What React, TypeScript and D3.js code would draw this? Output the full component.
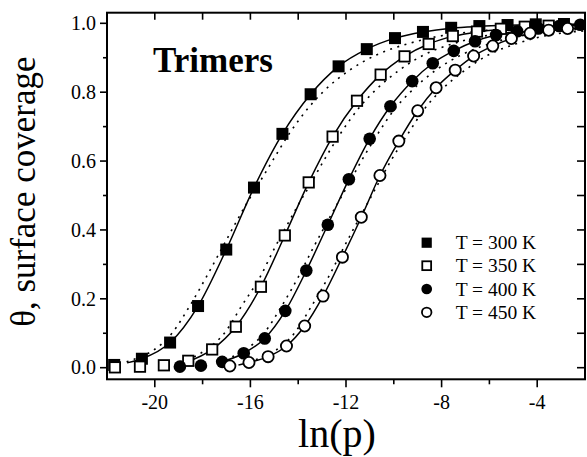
import React from "react";
import * as d3 from "d3";

// ---------- data ----------
const temps = ["T = 300 K", "T = 350 K", "T = 400 K", "T = 450 K"];

// simulation points
const lnP300 = [-21.70, -20.54, -19.36, -18.19, -17.01, -15.85, -14.66, -13.48, -12.31, -11.13, -9.95, -8.78, -7.60, -6.42, -5.24, -4.06, -2.88];
const th300 = [0.008, 0.026, 0.073, 0.179, 0.343, 0.523, 0.679, 0.794, 0.875, 0.925, 0.957, 0.975, 0.987, 0.992, 0.995, 0.997, 0.998];

const lnP350 = [-21.67, -20.62, -19.62, -18.60, -17.60, -16.61, -15.56, -14.56, -13.56, -12.56, -11.54, -10.55, -9.55, -8.54, -7.53, -6.52, -5.52, -4.52, -3.52];
const th350 = [0.001, 0.003, 0.007, 0.020, 0.053, 0.119, 0.235, 0.384, 0.538, 0.671, 0.775, 0.851, 0.904, 0.940, 0.963, 0.976, 0.984, 0.990, 0.993];

const lnP400 = [-18.95, -18.07, -17.18, -16.28, -15.40, -14.54, -13.66, -12.76, -11.88, -11.01, -10.14, -9.23, -8.37, -7.49, -6.60, -5.72, -4.84, -3.95, -3.08, -2.20];
const th400 = [0.003, 0.006, 0.017, 0.042, 0.085, 0.165, 0.282, 0.415, 0.547, 0.665, 0.759, 0.832, 0.884, 0.920, 0.948, 0.966, 0.977, 0.985, 0.992, 0.996];

const lnP450 = [-16.86, -16.06, -15.26, -14.49, -13.73, -12.96, -12.15, -11.36, -10.58, -9.79, -9.00, -8.23, -7.43, -6.66, -5.86, -5.08, -4.30, -3.52, -2.73];
const th450 = [0.005, 0.015, 0.032, 0.063, 0.121, 0.208, 0.321, 0.437, 0.558, 0.658, 0.746, 0.813, 0.864, 0.905, 0.934, 0.956, 0.971, 0.980, 0.985];

// solid curves (fit)
const fitX300 = [-21.16, -20.54, -19.36, -18.19, -17.01, -15.85, -14.66, -13.48, -12.31, -11.13, -9.95, -8.78, -7.60, -6.42, -5.24, -4.06, -2.0];
const fitY300 = [0.014, 0.026, 0.073, 0.179, 0.343, 0.523, 0.679, 0.794, 0.875, 0.925, 0.957, 0.975, 0.986, 0.991, 0.994, 0.996, 0.998];
const fitX350 = [-18.75, -17.60, -16.61, -15.56, -14.56, -13.56, -12.56, -11.54, -10.55, -9.55, -8.54, -7.53, -6.52, -5.52, -4.52, -3.52, -2.0];
const fitY350 = [0.014, 0.053, 0.119, 0.235, 0.384, 0.538, 0.671, 0.775, 0.851, 0.904, 0.940, 0.962, 0.975, 0.983, 0.989, 0.993, 0.996];
const fitX400 = [-17.40, -16.28, -15.40, -14.54, -13.66, -12.76, -11.88, -11.01, -10.14, -9.23, -8.37, -7.49, -6.60, -5.72, -4.84, -3.95, -3.08, -2.0];
const fitY400 = [0.013, 0.042, 0.085, 0.165, 0.282, 0.415, 0.547, 0.665, 0.759, 0.832, 0.884, 0.920, 0.948, 0.966, 0.977, 0.985, 0.991, 0.995];
const fitX450 = [-16.50, -16.06, -15.26, -14.49, -13.73, -12.96, -12.15, -11.36, -10.58, -9.79, -9.00, -8.23, -7.43, -6.66, -5.86, -5.08, -4.30, -3.52, -2.73, -2.0];
const fitY450 = [0.008, 0.015, 0.032, 0.063, 0.121, 0.208, 0.321, 0.437, 0.558, 0.658, 0.746, 0.813, 0.864, 0.905, 0.934, 0.956, 0.970, 0.978, 0.984, 0.988];

// dotted curves
const dotX300 = [-21.18, -20.65, -20.05, -19.28, -18.54, -17.84, -17.22, -16.62, -16.13, -15.75, -15.08, -14.38, -13.59, -12.96, -11.85, -10.73, -9.34, -8.23, -6.8, -5.0, -3.4, -2.0];
const dotY300 = [0.017, 0.03, 0.051, 0.1, 0.179, 0.264, 0.343, 0.42, 0.48, 0.523, 0.6, 0.679, 0.753, 0.801, 0.864, 0.908, 0.942, 0.961, 0.975, 0.985, 0.99, 0.993];
const dotX350 = [-18.95, -18.40, -17.88, -17.09, -16.37, -15.59, -15.02, -14.42, -13.94, -13.57, -12.94, -12.24, -11.47, -10.84, -9.77, -8.75, -7.46, -6.37, -4.81, -2.83, -2.0];
const dotY350 = [0.017, 0.03, 0.051, 0.1, 0.179, 0.264, 0.343, 0.42, 0.48, 0.523, 0.6, 0.679, 0.753, 0.801, 0.864, 0.908, 0.942, 0.961, 0.975, 0.985, 0.987];
const dotX400 = [-17.35, -16.81, -16.24, -15.43, -14.69, -13.99, -13.41, -12.81, -12.33, -11.97, -11.36, -10.67, -9.94, -9.30, -8.24, -7.18, -5.92, -4.87, -3.5, -2.0];
const dotY400 = [0.017, 0.03, 0.051, 0.1, 0.179, 0.264, 0.343, 0.42, 0.48, 0.523, 0.6, 0.679, 0.753, 0.801, 0.864, 0.908, 0.942, 0.961, 0.975, 0.984];
const dotX450 = [-16.07, -15.51, -14.93, -14.16, -13.44, -12.73, -12.14, -11.55, -11.08, -10.74, -10.13, -9.41, -8.70, -8.09, -7.02, -6.05, -4.81, -3.85, -2.52, -2.0];
const dotY450 = [0.017, 0.03, 0.051, 0.1, 0.179, 0.264, 0.343, 0.42, 0.48, 0.523, 0.6, 0.679, 0.753, 0.801, 0.864, 0.908, 0.942, 0.961, 0.975, 0.978];

const xMajor = [-20, -16, -12, -8, -4];
const xMinor = [-18, -14, -10, -6];
const xTop = [-20, -18, -16, -14, -12, -10, -8, -6, -4];
const yMajor = [0, 0.2, 0.4, 0.6, 0.8, 1.0];
const yMinor = [0.1, 0.3, 0.5, 0.7, 0.9];

// ---------- layout ----------
const W = 587, H = 457;
const L = 107, R = 585, T = 12.7, B = 379.3;
const FONT = "'Liberation Serif', 'Times New Roman', serif";

type Pt = [number, number];
const zip = (a: number[], b: number[]): Pt[] => a.map((v, i) => [v, b[i]]);

export default function App() {
  const x = d3.scaleLinear().domain([-22, -2]).range([L, R]);
  const y = d3.scaleLinear().domain([-0.0337, 1.0308]).range([B, T]);
  const line = d3
    .line<Pt>()
    .x((d) => x(d[0]))
    .y((d) => y(d[1]))
    .curve(d3.curveMonotoneX);

  const fits = [zip(fitX300, fitY300), zip(fitX350, fitY350), zip(fitX400, fitY400), zip(fitX450, fitY450)];
  const dots = [zip(dotX300, dotY300), zip(dotX350, dotY350), zip(dotX400, dotY400), zip(dotX450, dotY450)];
  const pts = [zip(lnP300, th300), zip(lnP350, th350), zip(lnP400, th400), zip(lnP450, th450)];

  const marker = (kind: number, cx: number, cy: number, legend: boolean, key: string) => {
    const s = legend ? 0.85 : 1;
    if (kind === 0) {
      const a = 12 * s;
      return <rect key={key} x={cx - a / 2} y={cy - a / 2} width={a} height={a} fill="#000" />;
    }
    if (kind === 1) {
      const a = 10.4 * s;
      return <rect key={key} x={cx - a / 2} y={cy - a / 2} width={a} height={a} fill="#fff" stroke="#000" strokeWidth={1.8} />;
    }
    if (kind === 2) {
      return <circle key={key} cx={cx} cy={cy} r={6.3 * s} fill="#000" />;
    }
    return <circle key={key} cx={cx} cy={cy} r={5.6 * s} fill="#fff" stroke="#000" strokeWidth={1.8} />;
  };

  const legendX = 426.7;
  const legendY = [242.7, 265.7, 289, 312.3];

  return (
    <svg width={W} height={H} style={{ position: "absolute", left: 0, top: 0, background: "#fff" }} fontFamily={FONT}>
      <rect width={W} height={H} fill="#fff" />
      <defs>
        <clipPath id="plot">
          <rect x={L} y={T} width={R - L} height={B - T} />
        </clipPath>
      </defs>

      <g clipPath="url(#plot)">
        {dots.map((d, i) => (
          <path key={"d" + i} d={line(d) || ""} fill="none" stroke="#000" strokeWidth={1.6} strokeDasharray="2 5.5" />
        ))}
        {fits.map((d, i) => (
          <path key={"f" + i} d={line(d) || ""} fill="none" stroke="#000" strokeWidth={1.5} />
        ))}
        {pts.map((s, i) => s.map((p, j) => marker(i, x(p[0]), y(p[1]), false, `m${i}-${j}`)))}
      </g>

      {/* frame */}
      <rect x={L} y={T} width={R - L} height={B - T} fill="none" stroke="#000" strokeWidth={2} />

      {/* bottom ticks */}
      {xMajor.map((v) => (
        <line key={"bx" + v} x1={x(v)} x2={x(v)} y1={B} y2={B + 8} stroke="#000" strokeWidth={1.6} />
      ))}
      {xMinor.map((v) => (
        <line key={"bm" + v} x1={x(v)} x2={x(v)} y1={B} y2={B + 5} stroke="#000" strokeWidth={1.6} />
      ))}
      {/* top ticks */}
      {xTop.map((v) => (
        <line key={"tx" + v} x1={x(v)} x2={x(v)} y1={T} y2={T + 7} stroke="#000" strokeWidth={1.6} />
      ))}
      {/* left ticks */}
      {yMajor.map((v) => (
        <line key={"ly" + v} x1={L - 7} x2={L} y1={y(v)} y2={y(v)} stroke="#000" strokeWidth={1.6} />
      ))}
      {yMinor.map((v) => (
        <line key={"lm" + v} x1={L - 4} x2={L} y1={y(v)} y2={y(v)} stroke="#000" strokeWidth={1.6} />
      ))}
      {/* right ticks */}
      {[...yMajor, ...yMinor].map((v) => (
        <line key={"ry" + v} x1={R - 8} x2={R} y1={y(v)} y2={y(v)} stroke="#000" strokeWidth={1.6} />
      ))}

      {/* tick labels */}
      {xMajor.map((v) => (
        <text key={"xl" + v} x={x(v)} y={409} textAnchor="middle" fontSize={20}>
          {String(v)}
        </text>
      ))}
      {yMajor.map((v) => (
        <text key={"yl" + v} x={96} y={y(v)} dy="0.34em" textAnchor="end" fontSize={20}>
          {v.toFixed(1)}
        </text>
      ))}

      {/* axis titles */}
      <text x={337} y={447} textAnchor="middle" fontSize={40}>
        ln(p)
      </text>
      <text transform="translate(35,191.7) rotate(-90)" textAnchor="middle" fontSize={35}>
        θ, surface coverage
      </text>

      <text x={153} y={71.5} fontSize={35} fontWeight="bold">
        Trimers
      </text>

      {/* legend */}
      {temps.map((t, i) => (
        <g key={"lg" + i}>
          {marker(i, legendX, legendY[i], true, "lm" + i)}
          <text x={455.7} y={legendY[i]} dy="0.34em" fontSize={19.5}>
            {t}
          </text>
        </g>
      ))}
    </svg>
  );
}
